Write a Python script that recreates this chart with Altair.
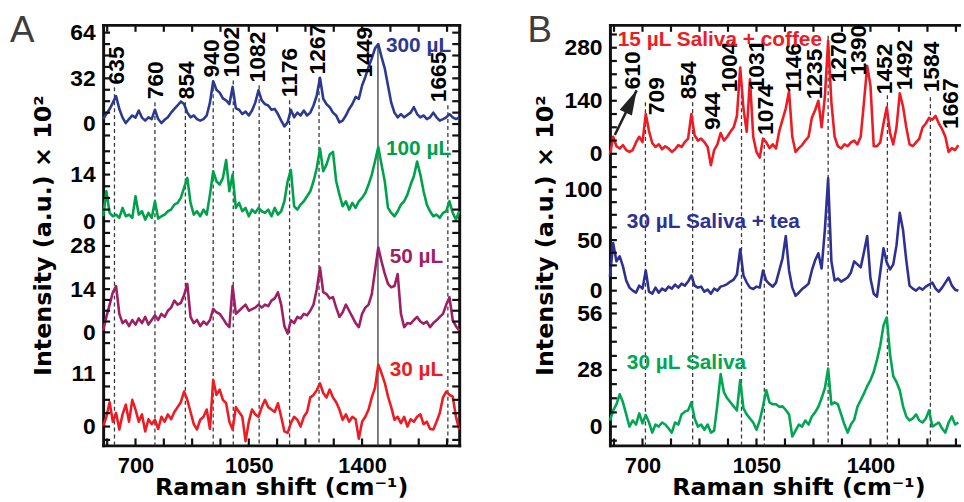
import altair as alt
import pandas as pd

# ------------------------------------------------------------------ data
# Raman shift sampling (cm^-1)
SHIFT_A = list(range(600, 1701, 10))
SHIFT_B = list(range(600, 1671, 10))

# Panel A: saliva volumes (intensity, a.u. x 10^2)
A_300 = [3.5, 7, 10.5, 15, 19.5, 10.5, 4.5, 0.7, 3.5, 6,
         4.5, 9.5, 4.5, 2.4, 4.7, 3.5, 10, 3.5, 0.7, 3,
         4.7, 8, 10.6, 13, 15.8, 14, 8, 4.7, 6, 3.5,
         2.4, 3.5, 6, 15, 30, 24, 22, 18, 16.5, 14,
         26, 11, 10, 7, 8.7, 6, 9.5, 15, 23.6, 16.5,
         14, 13, 10, 10.6, 7, 2.4, -1.7, 1.2, 10, 4.7,
         8, 6, 9.5, 6, 8, 13, 20, 32.4, 17.7, 14,
         11.8, 8, 6, 1.2, 2.4, 6, 10.6, 14, 19, 17.7,
         27, 33, 40, 46, 53, 56, 47, 39, 27, 15,
         8, 4.7, 7, 4.7, 6.4, 8, 11.8, 7, 4.7, 6,
         3.5, 4.7, 8, 4.7, 2.4, 3.5, 4.7, 7, 4.7, 3.5, 4.7]
A_100 = [1.5, 9, 2.5, 1.5, 2, 1, 4, 1.5, 2, 1,
         7.5, 2, 3, 0.5, 2.5, 1, 6, 0.8, 1.5, 2,
         3, 3.5, 5, 5.5, 7, 10, 13, 5.5, 2, 3,
         1.5, 3.5, 2, 8, 15, 12, 11, 13, 18.4, 9,
         14, 4, 5.5, 3, 4, 1.5, 3.5, 2.5, 4, 3,
         2.5, 3.5, 1.5, 4, 2, 3, 6, 12, 15.4, 4.5,
         3.5, 5, 6, 7.5, 9, 12, 16, 21.8, 15, 17,
         20, 20.8, 12, 8, 4.5, 6, 3.5, 5.5, 4, 6,
         7, 8.5, 11, 14, 18, 22.3, 17, 12, 4, 2.5,
         1.5, 3, 5, 6, 8, 11, 13.5, 17.9, 14, 9,
         5, 3, 1.5, 2, 1, 2.5, 3, 6, 2.5, 0.5, 3]
A_50 = [0.6, 5, 9, 13, 15, 6, 3, 3.9, 2, 4,
        2.5, 4.5, 3, 5, 2.5, 4, 5.5, 4, 6, 5,
        7, 8, 10.3, 9, 9.5, 12, 15.7, 5, 3, 4,
        2, 3.5, 2.5, 4, 7.6, 6.5, 6, 4.5, 2.8, 1.7,
        15, 6, 7, 8, 9, 7, 7.5, 8, 9, 8,
        9, 8.5, 10.3, 11, 13, 9, 2, -0.4, 3.9, 3,
        5, 4.5, 6, 5.5, 7, 9, 14, 21, 13, 12.4,
        11, 11.4, 8, 5, 6.5, 9, 7, 5, 3, 1.7,
        6, 8, 9, 12.4, 20, 27.5, 23, 19, 15.7, 14.6,
        15, 18.9, 6, 1.7, 3, 2.8, 4, 5, 3.5, 2.8,
        3.5, 1.7, 3, 3.9, 5, 6, 9, 11.4, 3.9, 2, 0.6]
A_30 = [0, 2, 5, 1, 2.8, -0.6, 2.5, 4.5, 1, 5.5,
        3.5, 1, 2.5, -1, 1.5, 0.5, 1.4, -0.5, 2, 1,
        2.5, 1.5, 3, 4, 5, 7.2, 5.5, 3, 0.5, -0.6,
        1.4, 2, 3.5, -0.5, 9.6, 6.5, 7.6, 5.5, 4.8, 1,
        -0.6, 4, 3, 2, -3, 1, 3.5, 2.5, 2, 4,
        5.5, 4, 3.5, 3, 4.8, 2, -1, -1.3, 0.7, 2,
        1.4, 0, 2, 3, 6, 6.5, 7.5, 8.9, 6.9, 6,
        7.6, 6, 5, 3.5, 1.4, 2.5, 1, 2, 1.5, -2.5,
        1, 2, 3.5, 6, 8, 12.7, 11, 9, 6.2, 4,
        1.4, 2, 0.7, 2, 0, 1.5, 1, 2, 2.5, 0.5,
        1, -0.5, -0.6, 1, 2.8, 6, 7.2, 6.5, 6.2, 2, -0.6]

# Panel B: saliva with beverages (intensity, a.u. x 10^2)
B_COFFEE = [-3, 45, 20, 14, 23, 10, 5, 10, 30, 45,
            31, 105, 60, 28, 18, 25, 12, 20, 14, 5,
            12, 23, 18, 31, 40, 105, 49, 35, 40, 31,
            18, -30, 10, 25, 55, 35, 45, 58, 70, 100,
            228, 120, 58, 197, 45, 5, -10, 40, 30, 15,
            25, 14, 60, 90, 120, 165, 45, 5, 15, 23,
            35, 45, 95, 115, 140, 70, 150, 298, 136, 45,
            20, 14, 25, 20, 30, 35, 25, 45, 136, 232,
            180, 20, 20, 30, 80, 123, 55, 25, 70, 160,
            125, 70, 25, 20, 30, 40, 70, 80, 95, 90,
            100, 80, 65, 45, 5, 15, 10, 23]
B_TEA = [14, 47, 29, 34, 24, 10, 3, 0, -2, 5,
         2, 20, -1, -3, 3, -2, 2, 0, 4, 2,
         6, 3, 7, 5, 9, 15, 5, 3, 4, -1,
         1, -3, 2, 0, 4, 5, 6.5, 9, 11, 16,
         41, 15, 8, 3, 1.6, 4, 3, 20, 10, 6.5,
         4, 8, 20, 32, 54, 20, 3, -5, -2, 1.6,
         4, 7, 20, 30, 37, 22, 60, 111, 29, 10,
         12, 9, 11, 13, 18, 29, 26, 23, 38, 54,
         12, -3, -6, 18, 42, 28, 21, 26, 45, 77,
         60, 30, 5, 2, 0, 3, 1, 4, 6, 8,
         2, -1, 3, 8, 13, 5, 1, 0]
B_SALIVA = [3, 8, 11, 16, 12, 6, 0, 3, 1, 6.5,
            1.6, 5.7, 2, -3, 1, 0, 2, 1, -1, -3,
            2, 1, 6, 7.4, 8, 12, 4, 0, 1, -1.6,
            1, -3, -2, 11, 26, 17, 14, 12, 10, 8,
            23, 9, 6, 4, 2, -1.6, 3, 10, 18, 12,
            11, 11, 9.8, 10, 8.2, 6, -4.9, -2, 1, 0,
            3, 1, 5, 7, 9.8, 14, 19, 28.7, 11, 12,
            11, 6, 1, -3, 1, 3.3, 9.8, 13, 16.4, 20,
            23, 27, 33, 40, 50, 54, 36, 25, 22, 18,
            10, 5, 3, 4, 6, 3, 2, 4, 8, 0,
            1, 2, -1, -3, 2, 5, 1, 2]

# assigned bands
A_PEAKS = [635, 760, 854, 940, 1002, 1082, 1176, 1267, 1449, 1665]
B_PEAKS = [610, 709, 854, 944, 1004, 1031, 1074, 1146, 1235, 1270,
           1390, 1452, 1492, 1584, 1667]
B_MARKED = [709, 854, 1004, 1074, 1270, 1452, 1584]

X_TICK_LABELS = [700, 1050, 1400]

# ------------------------------------------------------------------ layout
PLOT_H = 424          # stacked plot height (px units of the offset axis)
A_W, B_W = 359, 352
A_DOMAIN, B_DOMAIN = [600, 1700], [600, 1672]
X_MINOR = [612.5 + 87.5 * i for i in range(13)]
TICK = 7

FONT = "Liberation Sans"
NARROW = "Liberation Sans Narrow, Liberation Sans"
TITLE_FONT = "DejaVu Sans"
INK = "#111111"

# each trace: where its zero sits on the stack, px per unit, tick spacing
A_TRACES = [
    dict(name="300 µL", values=A_300, color="#2b3990", labels=[0, 32, 64],
         zero=324, k=1.44, step=8, span=(-1, 8)),
    dict(name="100 µL", values=A_100, color="#00a14b", labels=[0, 14],
         zero=226, k=3.36, step=3.5, span=(-1, 6)),
    dict(name="50 µL", values=A_50, color="#9e1f63", labels=[0, 14, 28],
         zero=114, k=3.11, step=3.5, span=(-1, 8)),
    dict(name="30 µL", values=A_30, color="#ed1c24", labels=[0, 11],
         zero=19, k=4.9, step=2.75, span=(-1, 5)),
]
B_TRACES = [
    dict(name="15 µL Saliva + coffee", values=B_COFFEE, color="#ed1c24",
         labels=[0, 140, 280], zero=294, k=0.382, step=35, span=(-1, 9)),
    dict(name="30 µL Saliva + tea", values=B_TEA, color="#2e3192",
         labels=[0, 50, 100], zero=156, k=1.02, step=12.5, span=(-1, 9)),
    dict(name="30 µL Saliva", values=B_SALIVA, color="#00a651",
         labels=[0, 28, 56], zero=19, k=2.036, step=7, span=(-1, 8)),
]

# annotation placement (shift, stack height)
A_LABEL_AT = [643, 762, 860, 937, 998, 1078, 1179, 1265, 1409, 1639]
A_LABEL_U = [364, 349, 349, 371, 371, 366, 351, 374, 371, 346]
A_LINE_TOP = [361, 346, 346, 368, 368, 363, 348, 371, 404, 343]
A_LEGEND_AT = [1675, 1675, 1651, 1651]
A_LEGEND_U = [403, 299, 190, 76]

B_LABEL_AT = [670, 746, 843, 916, 968, 1053, 1080, 1165, 1229, 1305,
              1366, 1445, 1506, 1588, 1649]
B_LABEL_U = [359, 333, 349, 318, 356, 358, 313, 356, 349, 366,
             373, 354, 358, 356, 319]
B_LINE_TOP = [346, 346, 354, 310, 413, 353, 351]
B_LEGEND_AT = [624, 652, 652]
B_LEGEND_U = [409, 225, 83]

ARROW_FROM = (615, 313)
ARROW_TO = (682, 358)


def stack_frame(shift, traces):
    rows = []
    for t in traces:
        for s, v in zip(shift, t["values"]):
            rows.append({"shift": s, "value": v, "trace": t["name"],
                         "u": t["zero"] + t["k"] * v})
    return pd.DataFrame(rows)


def tick_positions(traces):
    out = []
    for t in traces:
        lo, hi = t["span"]
        out += [round(t["zero"] + t["k"] * t["step"] * n, 3) for n in range(lo, hi + 1)]
    return out


def label_positions(traces):
    return [(round(t["zero"] + t["k"] * v, 3), str(v)) for t in traces for v in t["labels"]]


def label_expr(pairs):
    expr = "''"
    for pos, txt in pairs:
        expr = f"abs(datum.value - {pos}) < 0.01 ? '{txt}' : " + expr
    return expr


def frame_axis(orient):
    return alt.Axis(orient=orient, domain=True, domainColor=INK, domainWidth=3,
                    domainCap="square", ticks=False, labels=False, grid=False, title=None)


def inner_ticks(xs, ys, domain, width, ticks_y, right_side):
    """Short inward tick marks along the frame (the stack axis is in px units)."""
    reach = TICK * (domain[1] - domain[0]) / width      # tick length in cm^-1
    ydf = pd.DataFrame({"ypos": ticks_y})
    xdf = pd.DataFrame({"xpos": X_MINOR})
    style = dict(strokeWidth=2.2, color=INK)
    out = [
        alt.Chart(ydf).mark_rule(**style).encode(
            y=alt.Y("ypos:Q", scale=ys, axis=None),
            x=alt.X(datum=domain[0], scale=xs, axis=None),
            x2=alt.X2(datum=domain[0] + reach)),
        alt.Chart(xdf).mark_rule(**style).encode(
            x=alt.X("xpos:Q", scale=xs, axis=None),
            y=alt.Y(datum=0, scale=ys, axis=None), y2=alt.Y2(datum=TICK)),
        alt.Chart(xdf).mark_rule(**style).encode(
            x=alt.X("xpos:Q", scale=xs, axis=None),
            y=alt.Y(datum=PLOT_H, scale=ys, axis=None), y2=alt.Y2(datum=PLOT_H - TICK)),
    ]
    if right_side:
        out.append(alt.Chart(ydf).mark_rule(**style).encode(
            y=alt.Y("ypos:Q", scale=ys, axis=None),
            x=alt.X(datum=domain[1] - reach, scale=xs, axis=None),
            x2=alt.X2(datum=domain[1])))
    return out


def panel(letter, letter_dx, shift, traces, domain, width, peaks, label_at, label_u,
          lines, line_top, legend_at, legend_u, legend_align, title_x, xtitle_x,
          right_frame, arrow=False):
    xs = alt.Scale(domain=domain, nice=False, zero=False)
    ys = alt.Scale(domain=[0, PLOT_H], nice=False, zero=False)
    cs = alt.Scale(domain=[t["name"] for t in traces], range=[t["color"] for t in traces])

    pairs = label_positions(traces)
    y_label_axis = alt.Axis(
        orient="left", values=[p for p, _ in pairs], labelExpr=label_expr(pairs),
        ticks=False, domain=True, domainColor=INK, domainWidth=3, domainCap="square",
        labelFont=FONT, labelFontSize=23, labelFontWeight="bold", labelColor="black",
        labelPadding=8, labelOverlap=False, labelFlush=False, grid=False,
        title="Intensity (a.u.) × 10²", titleFont=TITLE_FONT, titleFontSize=24,
        titleFontWeight="bold", titleColor="black", titleX=title_x, titleY=PLOT_H / 2,
        titleAngle=270, titleBaseline="middle", titleAlign="center")
    x_label_axis = alt.Axis(
        orient="bottom", values=X_TICK_LABELS, format="d", ticks=False, domain=True,
        domainColor=INK, domainWidth=3, domainCap="square", labelFont=FONT,
        labelFontSize=22, labelFontWeight="bold", labelColor="black", labelPadding=10,
        labelFlush=False, labelOverlap=False, grid=False,
        title="Raman shift (cm⁻¹)", titleFont=TITLE_FONT, titleFontSize=24,
        titleFontWeight="bold", titleColor="black", titleX=xtitle_x, titleY=31,
        titleBaseline="top", titleAlign="center")

    ticks_y = tick_positions(traces)

    spectra = alt.Chart(stack_frame(shift, traces)).mark_line(
        strokeWidth=2.6, strokeJoin="round").encode(
        x=alt.X("shift:Q", scale=xs, axis=x_label_axis),
        y=alt.Y("u:Q", scale=ys, axis=y_label_axis),
        color=alt.Color("trace:N", scale=cs, legend=None),
        detail="trace:N",
    )

    line_df = pd.DataFrame({"peak": lines, "top": line_top})
    dashed = alt.Chart(line_df).mark_rule(strokeWidth=1.3, color="#3a3a3a").encode(
        x=alt.X("peak:Q", scale=xs, axis=None),
        y=alt.Y("top:Q", scale=ys, axis=None),
        y2=alt.datum(0),
        strokeDash=alt.condition(alt.datum.peak == 1449, alt.value([1, 0]), alt.value([4, 3])),
    )

    lab_df = pd.DataFrame({"label": [str(p) for p in peaks], "at": label_at, "u": label_u})
    peak_text = alt.Chart(lab_df).mark_text(
        angle=270, align="left", baseline="middle", font=NARROW, fontSize=23,
        fontWeight="bold", color="black").encode(
        x=alt.X("at:Q", scale=xs, axis=frame_axis("top")),
        y=alt.Y("u:Q", scale=ys,
                axis=frame_axis("right") if right_frame else None),
        text="label:N",
    )

    leg_df = pd.DataFrame({"trace": [t["name"] for t in traces], "at": legend_at, "u": legend_u})
    legend = alt.Chart(leg_df).mark_text(
        align=legend_align, baseline="middle", font=FONT, fontSize=21,
        fontWeight="bold").encode(
        x=alt.X("at:Q", scale=xs, axis=None),
        y=alt.Y("u:Q", scale=ys, axis=None),
        text="trace:N",
        color=alt.Color("trace:N", scale=cs, legend=None),
    )

    tag = alt.Chart(pd.DataFrame({"tag": [letter]})).mark_text(
        align="left", baseline="top", font=FONT, fontSize=37, color="#3d3d3d").encode(
        x=alt.value(letter_dx), y=alt.value(-12), text="tag:N")

    layers = [dashed, spectra, peak_text, legend, tag]
    layers += inner_ticks(xs, ys, domain, width, ticks_y, right_frame)

    if arrow:
        arr_df = pd.DataFrame({"x0": [ARROW_FROM[0]], "u0": [ARROW_FROM[1]],
                               "x1": [ARROW_TO[0]], "u1": [ARROW_TO[1]]})
        shaft = alt.Chart(arr_df).mark_rule(strokeWidth=2.6, color="#222222").encode(
            x=alt.X("x0:Q", scale=xs, axis=None), x2="x1:Q",
            y=alt.Y("u0:Q", scale=ys, axis=None), y2="u1:Q")
        head = alt.Chart(arr_df).mark_point(
            shape="M0,0L0.55,2L-0.55,2Z", size=625, angle=26, filled=True,
            color="#222222", opacity=1, strokeWidth=0).encode(
            x=alt.X("x1:Q", scale=xs, axis=None),
            y=alt.Y("u1:Q", scale=ys, axis=None))
        layers += [shaft, head]

    return alt.layer(*layers).resolve_axis(x="independent", y="independent").properties(
        width=width, height=PLOT_H)


panel_a = panel("A", -94, SHIFT_A, A_TRACES, A_DOMAIN, A_W, A_PEAKS, A_LABEL_AT, A_LABEL_U,
                A_PEAKS, A_LINE_TOP, A_LEGEND_AT, A_LEGEND_U, "right",
                title_x=-60, xtitle_x=A_W / 2, right_frame=True)
panel_b = panel("B", -83, SHIFT_B, B_TRACES, B_DOMAIN, B_W, B_PEAKS, B_LABEL_AT, B_LABEL_U,
                B_MARKED, B_LINE_TOP, B_LEGEND_AT, B_LEGEND_U, "left",
                title_x=-65, xtitle_x=190, right_frame=False, arrow=True)

chart = alt.hconcat(panel_a, panel_b, spacing=67).resolve_scale(
    color="independent"
).properties(
    padding={"left": 10, "top": 10, "right": 0, "bottom": 0}
).configure_view(stroke=None).configure_axis(grid=False)

chart.save("out.html", embed_options={"renderer": "svg", "actions": False})
